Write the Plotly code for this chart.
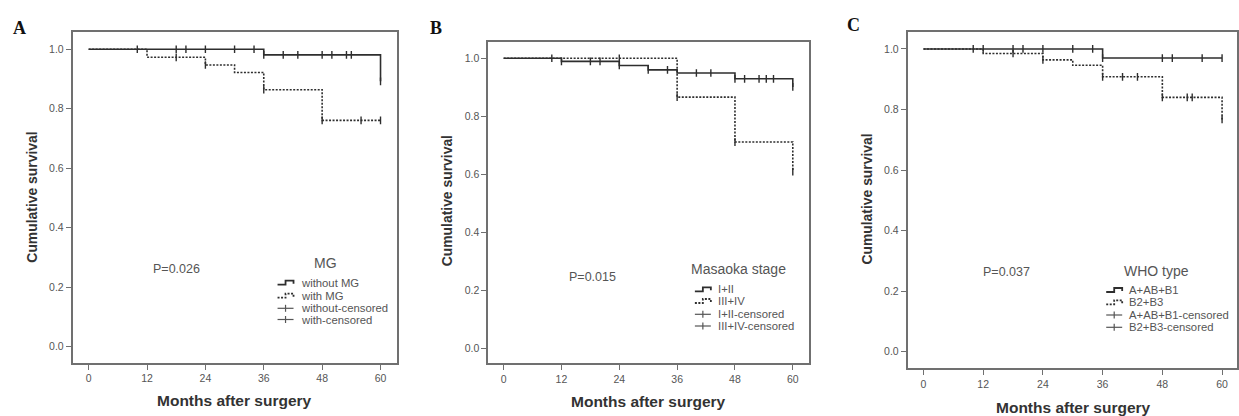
import plotly.graph_objects as go

W, H = 1239, 416

# ---------------- data ----------------
panel_labels = ["A", "B", "C"]
legend_titles = ["MG", "Masaoka stage", "WHO type"]
group_names = [["without MG", "with MG", "without-censored", "with-censored"],
               ["I+II", "III+IV", "I+II-censored", "III+IV-censored"],
               ["A+AB+B1", "B2+B3", "A+AB+B1-censored", "B2+B3-censored"]]
p_values = ["P=0.026", "P=0.015", "P=0.037"]

x_ticks = [0, 12, 24, 36, 48, 60]
y_ticks = [0.0, 0.2, 0.4, 0.6, 0.8, 1.0]

# Panel A
a_solid_t = [0, 36, 60]
a_solid_s = [1.0, 0.981, 0.892]
a_solid_cens = [10, 18, 20, 24, 30, 34, 36, 40, 43, 48, 50, 53, 54, 60]
a_dash_t = [0, 12, 24, 30, 36, 48, 60]
a_dash_s = [1.0, 0.973, 0.947, 0.922, 0.864, 0.761, 0.761]
a_dash_cens = [18, 24, 36, 48, 56, 60]

# Panel B
b_solid_t = [0, 12, 24, 30, 36, 48, 60]
b_solid_s = [1.0, 0.989, 0.975, 0.96, 0.949, 0.929, 0.901]
b_solid_cens = [10, 12, 18, 20, 24, 30, 34, 40, 43, 48, 50, 53, 54.5, 56, 60]
b_dash_t = [0, 36, 48, 60]
b_dash_s = [1.0, 0.866, 0.711, 0.609]
b_dash_cens = [24, 36, 48, 60]

# Panel C
c_solid_t = [0, 36, 60]
c_solid_s = [1.0, 0.97, 0.97]
c_solid_cens = [10, 12, 18, 20, 24, 30, 34, 36, 48, 50, 56, 60]
c_dash_t = [0, 12, 24, 30, 36, 48, 60]
c_dash_s = [1.0, 0.985, 0.964, 0.946, 0.908, 0.84, 0.767]
c_dash_cens = [18, 24, 36, 40, 43, 48, 53, 54, 60]

panels = [
    (a_solid_t, a_solid_s, a_solid_cens, a_dash_t, a_dash_s, a_dash_cens),
    (b_solid_t, b_solid_s, b_solid_cens, b_dash_t, b_dash_s, b_dash_cens),
    (c_solid_t, c_solid_s, c_solid_cens, c_dash_t, c_dash_s, c_dash_cens),
]

# ---------------- layout geometry (pixels) ----------------
frames = [  # left, right, top, bottom
    (72.7, 397.7, 32.0, 363.0),
    (489.0, 810.0, 41.7, 363.3),
    (909.0, 1239.0, 32.3, 368.3),
]
x_ranges = [[-3.3, 63.4], [-3.2, 63.3], [-3.2, 63.0]]
y_ranges = [[-0.055, 1.058], [-0.052, 1.057], [-0.055, 1.055]]

label_pos = [(20, 28), (437, 28), (855, 25)]
p_pos = [(177, 269.3), (593, 276.7), (1008, 271.7)]
ytitle_pos = [(31.7, 197), (448, 201), (868, 199)]
xtitle_pos = [(235, 400), (650, 401.7), (1075, 407.3)]
leg_title_pos = [(326, 263), (740, 269), (1158, 271)]
leg_icon_x = [278, 696, 1108]
leg_rows = [[282.7, 295.7, 308.3, 319.5], [289.3, 301.0, 314.3, 326.0], [290.0, 302.3, 315.0, 327.3]]

def fx(px):
    return px / W

def fy(py):
    return 1 - py / H

def surv_at(times, surv, t):
    v = surv[0]
    for ti, si in zip(times, surv):
        if ti <= t:
            v = si
    return v

CURVE = "#2e2e2e"
FRAME = "#707070"
FONT = "Arial, Liberation Sans, sans-serif"
DASH = "2px,1.5px"

fig = go.Figure()
annotations = []
shapes = []
layout_axes = {}

for i, (st, ss, sc, dt, ds, dc) in enumerate(panels):
    n = "" if i == 0 else str(i + 1)
    xa, ya = "x" + n, "y" + n
    # dashed group
    fig.add_trace(go.Scatter(x=dt, y=ds, mode="lines", line_shape="hv",
                             line=dict(color=CURVE, width=1.6, dash=DASH),
                             xaxis=xa, yaxis=ya, showlegend=False, hoverinfo="skip"))
    fig.add_trace(go.Scatter(x=dc, y=[surv_at(dt, ds, t) for t in dc], mode="markers",
                             marker=dict(symbol="line-ns", size=5.5, color=CURVE,
                                         line=dict(color=CURVE, width=1.4)),
                             xaxis=xa, yaxis=ya, showlegend=False, hoverinfo="skip"))
    # solid group
    fig.add_trace(go.Scatter(x=st, y=ss, mode="lines", line_shape="hv",
                             line=dict(color=CURVE, width=1.6),
                             xaxis=xa, yaxis=ya, showlegend=False, hoverinfo="skip"))
    fig.add_trace(go.Scatter(x=sc, y=[surv_at(st, ss, t) for t in sc], mode="markers",
                             marker=dict(symbol="line-ns", size=5.5, color=CURVE,
                                         line=dict(color=CURVE, width=1.4)),
                             xaxis=xa, yaxis=ya, showlegend=False, hoverinfo="skip"))

    l, r, t, b = frames[i]
    common = dict(showline=True, mirror=True, linecolor=FRAME, linewidth=1.5,
                  ticks="outside", ticklen=5, tickwidth=1.3, tickcolor=FRAME,
                  showgrid=False, zeroline=False,
                  tickfont=dict(family=FONT, size=10.5, color="#555555"))
    layout_axes["xaxis" + n] = dict(common, domain=[fx(l), fx(r)], range=x_ranges[i],
                                    tickvals=x_ticks, anchor=ya)
    layout_axes["yaxis" + n] = dict(common, domain=[fy(b), fy(t)], range=y_ranges[i],
                                    tickvals=y_ticks, tickformat=".1f", anchor=xa)

    def ann(text, pos, size, color, bold=False, family=FONT, angle=0, xanchor="center"):
        annotations.append(dict(text=("<b>%s</b>" % text) if bold else text,
                                x=fx(pos[0]), y=fy(pos[1]), xref="paper", yref="paper",
                                xanchor=xanchor, yanchor="middle", showarrow=False,
                                textangle=angle, font=dict(family=family, size=size, color=color)))

    ann(panel_labels[i], label_pos[i], 18, "#111111", bold=True,
        family="Liberation Serif, Times New Roman, serif")
    ann(p_values[i], p_pos[i], 12.5, "#555555")
    ann("Cumulative survival", ytitle_pos[i], 13.9, "#333333", bold=True, angle=-90)
    ann("Months after surgery", xtitle_pos[i], 15.5, "#333333", bold=True)
    ann(legend_titles[i], leg_title_pos[i], 14, "#555555")

    x0 = leg_icon_x[i]
    for k, name in enumerate(group_names[i]):
        yy = leg_rows[i][k]
        ann(name, (x0 + 21, yy), 11.3, "#555555", xanchor="left")
        if k < 2:
            path = "M %f,%f L %f,%f L %f,%f L %f,%f L %f,%f" % (
                fx(x0), fy(yy + 2), fx(x0 + 8), fy(yy + 2), fx(x0 + 8), fy(yy - 2),
                fx(x0 + 16), fy(yy - 2), fx(x0 + 16), fy(yy + 1))
            shapes.append(dict(type="path", path=path, xref="paper", yref="paper",
                               line=dict(color=CURVE, width=1.8,
                                         dash="solid" if k == 0 else DASH)))
        else:
            shapes.append(dict(type="line", xref="paper", yref="paper",
                               x0=fx(x0), x1=fx(x0 + 16), y0=fy(yy), y1=fy(yy),
                               line=dict(color="#555555", width=1.2)))
            shapes.append(dict(type="line", xref="paper", yref="paper",
                               x0=fx(x0 + 8), x1=fx(x0 + 8), y0=fy(yy - 3.5), y1=fy(yy + 3.5),
                               line=dict(color="#555555", width=1.2)))

fig.update_layout(width=W, height=H, autosize=False,
                  margin=dict(l=0, r=0, t=0, b=0),
                  paper_bgcolor="white", plot_bgcolor="white",
                  annotations=annotations, shapes=shapes,
                  font=dict(family=FONT), **layout_axes)

fig.write_html("out.html", config={"displayModeBar": False},
               post_script="document.body.style.margin='0px';"
                           "document.body.style.overflow='hidden';")
